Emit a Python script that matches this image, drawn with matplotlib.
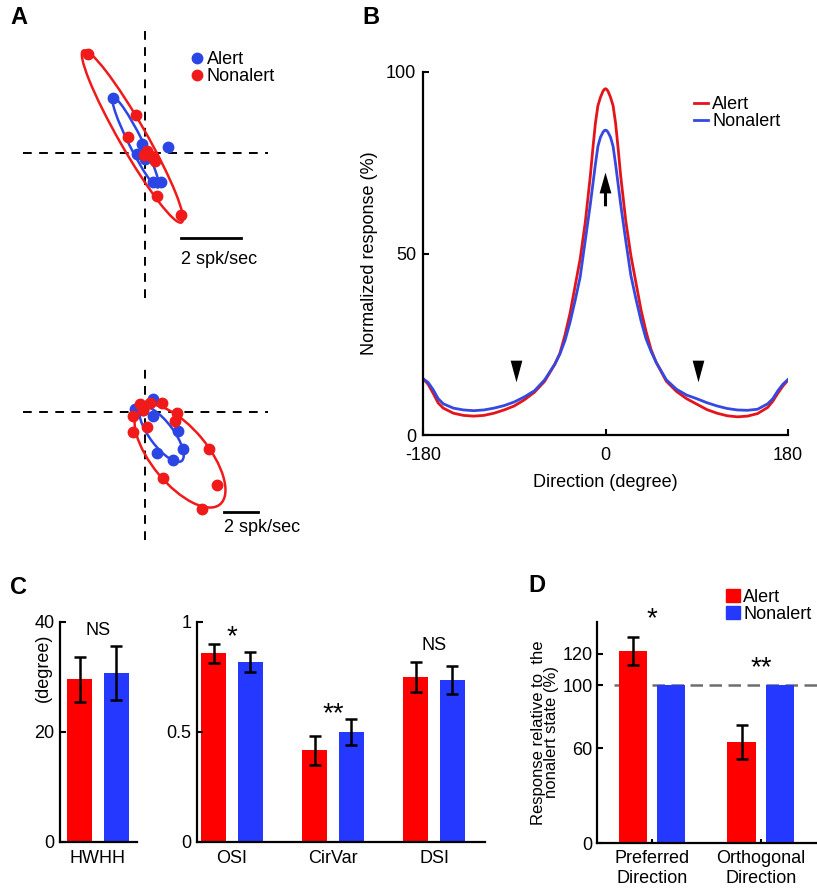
import matplotlib
matplotlib.use("Agg")
import matplotlib.pyplot as plt
from matplotlib.lines import Line2D
from matplotlib.patches import Ellipse, Patch

plt.rcParams["font.family"] = ["Liberation Sans", "DejaVu Sans"]
plt.rcParams["font.size"] = 13
plt.rcParams["axes.unicode_minus"] = False

RED = "#ff0000"
BLUE = "#2438ff"
LINE_RED = "#e3151b"
LINE_BLUE = "#3548e0"
DOT_RED = "#f01a1a"
DOT_BLUE = "#2c46e6"

# ---- panel A: polar responses (x, y components in spk/sec) ----
top_alert_x = [-1.06, -0.11, 0.78, -0.28, 0.28, 0.53, 0.0]
top_alert_y = [1.85, 0.30, 0.21, -0.03, -0.98, -0.95, -0.19]
top_nonalert_x = [-1.91, -0.30, -0.56, 0.06, 0.33, 0.39, 1.20, -0.05, 0.2]
top_nonalert_y = [3.30, 1.28, 0.52, 0.08, -0.26, -1.42, -2.06, -0.05, -0.1]
# fitted ellipses: centre x, centre y, major, minor, angle (deg)
top_alert_fit = [-0.31, 0.35, 3.35, 0.45, 116.6]
top_nonalert_fit = [-0.42, 0.55, 6.6, 0.9, 119.8]

bot_alert_x = [0.49, -0.59, 0.49, 1.96, 2.22, 1.67, 0.73, -0.10]
bot_alert_y = [0.79, 0.16, -0.24, -1.12, -2.15, -2.82, -2.39, 0.12]
bot_nonalert_x = [-0.69, -0.72, -0.29, 0.29, 0.98, 1.86, 1.76, 0.10, 3.78, 4.22, 3.33, 1.08, -0.10]
bot_nonalert_y = [-1.18, -0.24, 0.45, 0.55, 0.51, -0.04, -0.53, -0.86, -2.19, -4.29, -5.69, -3.86, 0.12]
bot_alert_fit = [0.98, -1.31, 3.92, 1.4, -53.2]
bot_nonalert_fit = [2.06, -2.59, 7.38, 3.3, -50.4]

SCALE_BAR = 2  # spk/sec

# ---- panel B: population tuning curves ----
direction = [-180, -175, -170, -165, -160, -150, -140, -130, -120, -110, -100, -90, -80, -70,
             -60, -50, -45, -40, -35, -30, -25, -20, -15, -12.5, -10, -7.5, -5, -2.5, -1.25,
             0,
             1.25, 2.5, 5, 7.5, 10, 12.5, 15, 20, 25, 30, 35, 40, 45, 50, 60, 70, 80, 90,
             100, 110, 120, 130, 140, 150, 160, 165, 170, 175, 180]
alert_curve = [15.5, 14.0, 11.5, 8.8, 7.4, 6.0, 5.4, 5.2, 5.4, 6.0, 6.9, 8.0, 9.7, 11.8,
               14.8, 19.5, 22.5, 27.5, 33.5, 41, 48.5, 58.5, 71.3, 78.8, 85.8, 90.7, 93.0,
               94.7, 95.2,
               95.4,
               95.2, 94.7, 93.0, 90.7, 85.8, 78.8, 71.3, 59.0, 49.5, 42, 34.5, 28.5, 23.5,
               20.0, 14.8, 12.0, 10.0, 8.5, 7.0, 6.0, 5.3, 5.0, 5.2, 5.9, 7.6, 9.3, 11.5,
               13.5, 15.1]
nonalert_curve = [15.5, 14.5, 12.5, 10.0, 8.6, 7.4, 6.9, 6.7, 6.9, 7.4, 8.1, 9.1, 10.5, 12.2,
                  15.2, 19.5, 22.3, 26, 31, 37, 43.5, 53.5, 63.5, 69, 74.5, 79.5, 82, 83.4,
                  83.85,
                  84.0,
                  83.85, 83.4, 82, 79.5, 74.5, 69, 63.5, 53.5, 44, 37.5, 31.5, 26.5, 23,
                  20, 15.2, 12.6, 11.0, 10.0, 8.9, 8.0, 7.3, 6.9, 6.8, 7.1, 8.6, 10.0, 12.2,
                  14.0, 15.3]
orth_dirs = [-88.5, 91.5]

# ---- panel C ----
hwhh_alert, hwhh_alert_err = 29.6, 4.1
hwhh_nonalert, hwhh_nonalert_err = 30.8, 4.9
index_names = ["OSI", "CirVar", "DSI"]
index_alert = [0.857, 0.417, 0.75]
index_alert_err = [0.044, 0.066, 0.068]
index_nonalert = [0.817, 0.50, 0.735]
index_nonalert_err = [0.046, 0.06, 0.063]
index_sig = ["*", "**", "NS"]

# ---- panel D ----
d_names = ["Preferred\nDirection", "Orthogonal\nDirection"]
d_alert = [121.5, 64.0]
d_alert_err = [9.0, 10.7]
d_nonalert = [100, 100]
d_sig = ["*", "**"]

W, H = 817, 890
fig = plt.figure(figsize=(W / 100, H / 100), dpi=100)


def px_axes(x0, y0, x1, y1):
    return fig.add_axes([x0 / W, 1 - y1 / H, (x1 - x0) / W, (y1 - y0) / H])


def style_axes(ax):
    for s in ["top", "right"]:
        ax.spines[s].set_visible(False)
    for s in ["left", "bottom"]:
        ax.spines[s].set_linewidth(1.6)
    ax.tick_params(direction="in", width=1.5, length=4, labelsize=13)


def polar_panel(ax, ax_x, ax_y, an_x, an_y, a_fit, n_fit):
    ax.axhline(0, color="black", lw=1.4, ls=(0, (4.5, 3.8)), zorder=1)
    ax.axvline(0, color="black", lw=1.4, ls=(0, (4.5, 3.8)), zorder=1)
    for fit, col in [(a_fit, DOT_BLUE), (n_fit, DOT_RED)]:
        e = Ellipse((fit[0], fit[1]), fit[2], fit[3], angle=fit[4],
                    fill=False, ec=col, lw=1.8, zorder=2)
        ax.add_patch(e)
    ax.plot(ax_x, ax_y, "o", color=DOT_BLUE, ms=7.5, zorder=3)
    ax.plot(an_x, an_y, "o", color=DOT_RED, ms=7.5, zorder=4)
    ax.axis("off")


# panel A top
axA1 = px_axes(23, 30, 268, 298)
axA1.set_xlim(-122 / 30, 123 / 30)
axA1.set_ylim(-145 / 30, 123 / 30)
polar_panel(axA1, top_alert_x, top_alert_y, top_nonalert_x, top_nonalert_y,
            top_alert_fit, top_nonalert_fit)
axA1.plot([1.2, 1.2 + SCALE_BAR], [-2.83, -2.83], color="black", lw=2)
axA1.text(1.2, -3.25, f"{SCALE_BAR} spk/sec", ha="left", va="top", fontsize=13)
axA1.legend(handles=[Line2D([], [], marker="o", ls="", color=DOT_BLUE, ms=7.5),
                     Line2D([], [], marker="o", ls="", color=DOT_RED, ms=7.5)],
            labels=["Alert", "Nonalert"], frameon=False, fontsize=13,
            loc="upper left", bbox_to_anchor=(179 / W, 1 - 42 / H),
            bbox_transform=fig.transFigure, handletextpad=0.05,
            labelspacing=0.0, borderpad=0, handlelength=1.0)

# panel A bottom
axA2 = px_axes(23, 365, 268, 540)
axA2.set_xlim(-122 / 17, 123 / 17)
axA2.set_ylim(-128 / 17, 47 / 17)
polar_panel(axA2, bot_alert_x, bot_alert_y, bot_nonalert_x, bot_nonalert_y,
            bot_alert_fit, bot_nonalert_fit)
axA2.plot([4.65, 4.65 + SCALE_BAR], [-5.88, -5.88], color="black", lw=2)
axA2.text(4.65, -6.3, f"{SCALE_BAR} spk/sec", ha="left", va="top", fontsize=13)

# panel B
axB = px_axes(423, 72, 788, 435)
style_axes(axB)
axB.plot(direction, alert_curve, color=LINE_RED, lw=2.0, label="Alert")
axB.plot(direction, nonalert_curve, color=LINE_BLUE, lw=2.0, label="Nonalert")
tri = [(-0.54, 1), (0.54, 1), (0, -1), (-0.54, 1)]
axB.plot(orth_dirs, [17.7, 17.7], ls="", marker=tri, color="black", ms=15.6, mew=0)
axB.annotate("", xy=(0, 72.3), xytext=(0, 63.0),
             arrowprops=dict(width=2.2, headwidth=8.5, headlength=15, shrink=0,
                             facecolor="black", edgecolor="none", lw=0))
axB.set_xlim(-180, 180)
axB.set_ylim(0, 100)
axB.set_xticks([-180, 0, 180])
axB.set_yticks([0, 50, 100])
axB.tick_params(axis="x", pad=9)
axB.tick_params(axis="y", pad=5)
axB.text(0.5, -0.132, "Direction (degree)", transform=axB.transAxes,
         ha="center", va="center", fontsize=13)
axB.text(-0.146, 0.5, "Normalized response (%)", transform=axB.transAxes,
         ha="center", va="center", rotation=90, fontsize=13)
axB.legend(frameon=False, fontsize=13, loc="upper left",
           bbox_to_anchor=(685 / W, 1 - 87 / H), bbox_transform=fig.transFigure,
           handlelength=0.75, handletextpad=0.25, labelspacing=0.0, borderpad=0)

# panel C
OFF = 0.18
BW = 0.25
ekw = dict(lw=1.8, capthick=1.8, ecolor="black")

axC1 = px_axes(60, 622, 137, 842)
style_axes(axC1)
axC1.bar([1 - OFF], [hwhh_alert], BW, yerr=[hwhh_alert_err], color=RED,
         capsize=4, error_kw=ekw)
axC1.bar([1 + OFF], [hwhh_nonalert], BW, yerr=[hwhh_nonalert_err], color=BLUE,
         capsize=4, error_kw=ekw)
axC1.set_xlim(0.624, 1.386)
axC1.set_ylim(0, 40)
axC1.set_yticks([0, 20, 40])
axC1.set_xticks([1])
axC1.set_xticklabels(["HWHH"])
axC1.tick_params(axis="x", length=0, pad=6)
axC1.tick_params(axis="y", pad=4)
axC1.text(1, 38.5, "NS", ha="center", va="center", fontsize=13)
axC1.text(-0.22, 0.79, "(degree)", transform=axC1.transAxes, rotation=90,
          ha="center", va="center", fontsize=13)

axC2 = px_axes(197, 622, 485, 842)
style_axes(axC2)
xs = [1, 2, 3]
axC2.bar([x - OFF for x in xs], index_alert, BW, yerr=index_alert_err, color=RED,
         capsize=4, error_kw=ekw)
axC2.bar([x + OFF for x in xs], index_nonalert, BW, yerr=index_nonalert_err,
         color=BLUE, capsize=4, error_kw=ekw)
axC2.set_xlim(0.653, 3.505)
axC2.set_ylim(0, 1)
axC2.set_yticks([0, 0.5, 1])
axC2.set_yticklabels(["0", "0.5", "1"])
axC2.set_xticks(xs)
axC2.set_xticklabels(index_names)
axC2.tick_params(axis="x", length=0, pad=6)
axC2.tick_params(axis="y", pad=4)
sig_y = [0.93, 0.58, 0.895]
for x, s, yv in zip(xs, index_sig, sig_y):
    if s == "NS":
        axC2.text(x, yv, s, ha="center", va="center", fontsize=13)
    else:
        axC2.text(x, yv, s, ha="center", va="center", fontsize=20)

# panel D
axD = px_axes(597, 622, 817, 843)
style_axes(axD)
dx = [1, 2]
DOFF = 0.177
DBW = 0.26
axD.axhline(100, xmin=0.075, color="#6e6e6e", lw=1.8, ls=(0, (5, 2.6)), zorder=0)
axD.bar([x - DOFF for x in dx], d_alert, DBW, yerr=d_alert_err, color=RED,
        capsize=4, error_kw=ekw, label="Alert", zorder=2)
axD.bar([x + DOFF for x in dx], d_nonalert, DBW, color=BLUE, label="Nonalert", zorder=2)
axD.set_xlim(0.494, 2.516)
axD.set_ylim(0, 140)
axD.set_yticks([0, 60, 100, 120])
axD.set_xticks(dx)
axD.set_xticklabels(d_names)
axD.tick_params(axis="x", length=3, pad=5)
axD.tick_params(axis="y", pad=3)
axD.text(dx[0], 142, d_sig[0], ha="center", va="center", fontsize=20)
axD.text(dx[1], 111, d_sig[1], ha="center", va="center", fontsize=20)
axD.text(-0.235, 0.5, "Response relative to  the\nnonalert state (%)",
         transform=axD.transAxes, rotation=90, ha="center", va="center",
         fontsize=12, linespacing=0.85)
axD.legend(handles=[Patch(color=RED), Patch(color=BLUE)], labels=["Alert", "Nonalert"],
           frameon=False, fontsize=13, loc="upper left",
           bbox_to_anchor=(717 / W, 1 - 580 / H), bbox_transform=fig.transFigure,
           handlelength=0.75, handleheight=0.75, handletextpad=0.2,
           labelspacing=0.0, borderpad=0)

# panel letters
for lbl, x, y in [("A", 10, 18), ("B", 362, 18), ("C", 10, 588), ("D", 528, 585)]:
    fig.text(x / W, 1 - y / H, lbl, fontsize=17, fontweight="bold",
             ha="left", va="center")

fig.savefig("out.png", dpi=100)
